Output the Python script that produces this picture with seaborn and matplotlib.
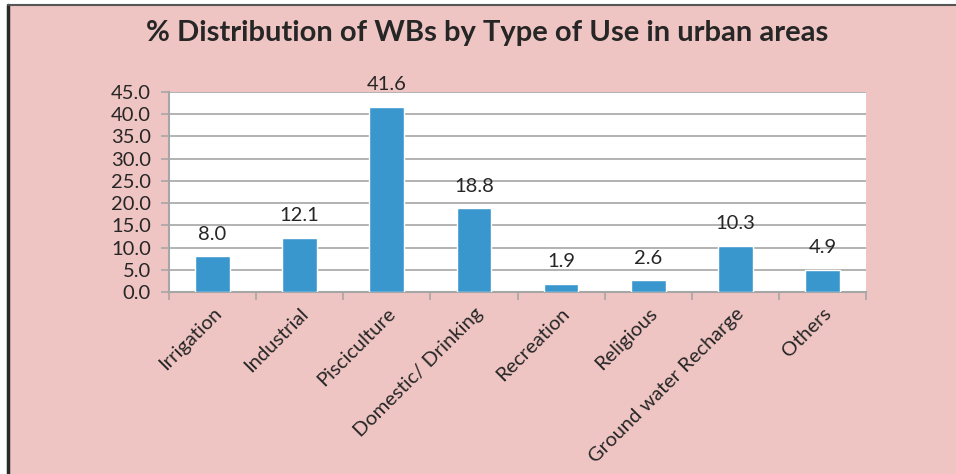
import matplotlib
matplotlib.use("Agg")
import matplotlib.pyplot as plt
import seaborn as sns
import pandas as pd
from matplotlib.patches import Rectangle

categories = ["Irrigation", "Industrial", "Pisciculture", "Domestic/ Drinking",
              "Recreation", "Religious", "Ground water Recharge", "Others"]
values = [8.0, 12.1, 41.6, 18.8, 1.9, 2.6, 10.3, 4.9]
yticks = [0, 5, 10, 15, 20, 25, 30, 35, 40, 45]
title = "% Distribution of WBs by Type of Use in urban areas"

sns.set_theme(style="white")
plt.rcParams['font.family'] = ['Lato', 'DejaVu Sans']

bg = "#EFC5C3"
bar_color = "#3A97CE"
grid_color = "#A6A6A6"
text_color = "#262626"
fs = 14.5

fig = plt.figure(figsize=(9.56, 4.74), dpi=100)
fig.patch.set_facecolor("white")
# pink panel with dark border on left/top
fig.patches.append(Rectangle((8/956, 0), 1 - 8/956, 1 - 5/474, transform=fig.transFigure,
                             facecolor=bg, edgecolor="none", zorder=-2))
fig.lines.append(plt.Line2D([8/956, 8/956], [0, 1 - 5/474], transform=fig.transFigure,
                            color="#2a2a2a", lw=2.5))
fig.lines.append(plt.Line2D([8/956, 1], [1 - 5/474, 1 - 5/474], transform=fig.transFigure,
                            color="#555555", lw=1.5))

ax = fig.add_axes([169/956, 1 - 292/474, (866 - 169)/956, (292 - 92)/474])
ax.set_facecolor("white")

df = pd.DataFrame({"category": categories, "value": values})
sns.barplot(data=df, x="category", y="value", color=bar_color, width=0.40,
            saturation=1, ax=ax, zorder=3)

ax.set_ylim(0, 45)
ax.set_xlim(-0.5, len(categories) - 0.5)
ax.set_yticks(yticks)
ax.set_yticklabels([f"{v:.1f}" for v in yticks], fontsize=fs, color=text_color)
ax.yaxis.grid(True, color=grid_color, lw=1.2, zorder=0)
ax.set_axisbelow(True)

for s in ["top", "right"]:
    ax.spines[s].set_visible(False)
for s in ["left", "bottom"]:
    ax.spines[s].set_color(grid_color)
    ax.spines[s].set_linewidth(1.5)

ax.tick_params(axis="y", which="major", length=6, width=1.2, color=grid_color,
               direction="out", left=True, pad=7)
ax.set_xticks(range(len(categories)))
ax.set_xticklabels(categories, rotation=45, ha="right", rotation_mode="anchor",
                   fontsize=fs, color=text_color)
ax.tick_params(axis="x", which="major", length=0, pad=9)
ax.set_xticks([i - 0.5 for i in range(len(categories) + 1)], minor=True)
ax.tick_params(axis="x", which="minor", length=6, width=1.2, color=grid_color,
               direction="out", bottom=True)

ax.set_xlabel("")
ax.set_ylabel("")

for i, v in enumerate(values):
    ax.annotate(f"{v:.1f}", (i, v), xytext=(0, 10), textcoords="offset points",
                ha="center", va="bottom", fontsize=fs, color=text_color)

fig.text(487/956, 1 - 33/474, title, ha="center", va="center",
         fontsize=21, fontweight="bold", color=text_color)

fig.savefig("out.png", dpi=100, facecolor=fig.get_facecolor())
